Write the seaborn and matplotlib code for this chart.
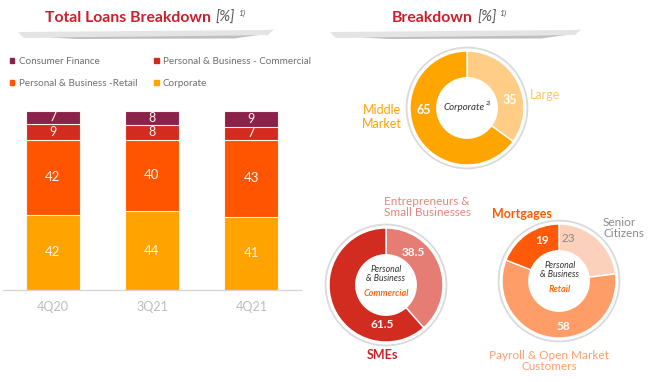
import matplotlib.pyplot as plt
import matplotlib.patches as mpatches
import numpy as np
import seaborn as sns

# ---- data -----------------------------------------------------------------
quarters = ["4Q20", "3Q21", "4Q21"]
segment_names = [
    "Consumer Finance",
    "Personal & Business - Commercial",
    "Personal & Business -Retail",
    "Corporate",
]
consumer_finance = [7, 8, 9]
pb_commercial = [9, 8, 7]
pb_retail = [42, 40, 43]
corporate = [42, 44, 41]

corp_labels = ["Large", "Middle\nMarket"]
corp_values = [35, 65]
comm_labels = ["Entrepreneurs &\nSmall Businesses", "SMEs"]
comm_values = [38.5, 61.5]
retail_labels = ["Senior\nCitizens", "Payroll & Open Market\nCustomers", "Mortgages"]
retail_values = [23, 58, 19]

# ---- style ----------------------------------------------------------------
sns.set_theme(style="white")
plt.rcParams["font.family"] = ["Lato", "DejaVu Sans"]

RED = "#CC1F2A"
seg_colors = ["#8B2249", "#D32B1F", "#FF5500", "#FFA300"]
corp_colors = ["#FFCD85", "#FFA500"]
comm_colors = ["#E57D75", "#D22B20"]
retail_colors = ["#FCD1BB", "#FF9D68", "#FF5A0A"]

W, H = 651, 382
fig = plt.figure(figsize=(W / 100, H / 100), dpi=100)
fig.patch.set_facecolor("white")


def px_axes(x0, y0, x1, y1, **kw):
    """Axes placed by pixel box (top-left origin)."""
    return fig.add_axes([x0 / W, 1 - y1 / H, (x1 - x0) / W, (y1 - y0) / H], **kw)


# ---- stacked bars -----------------------------------------------------------
ax = px_axes(3, 111, 301, 290)
bottom_up = [corporate, pb_retail, pb_commercial, consumer_finance]
bottom_up_colors = seg_colors[::-1]
cum = np.cumsum(np.array(bottom_up), axis=0)
for k in reversed(range(len(bottom_up))):
    sns.barplot(
        x=quarters, y=cum[k], color=bottom_up_colors[k], width=0.544,
        saturation=1, edgecolor="#FFF4EC", linewidth=0.8, ax=ax,
    )
for k, vals in enumerate(bottom_up):
    for i, v in enumerate(vals):
        ax.text(i, cum[k][i] - v / 2, str(v), ha="center", va="center",
                color="#FFF6EE", fontsize=9.5 if v > 20 else 9)

ax.set_xlim(-0.5, 2.5)
ax.set_ylim(0, 100)
sns.despine(ax=ax, left=True)
ax.spines["bottom"].set_color("#D5D5D5")
ax.spines["bottom"].set_linewidth(0.9)
ax.set_yticks([])
ax.set_xticks([-0.5, 0.5, 1.5, 2.5], minor=True)
ax.tick_params(axis="x", which="minor", length=5, direction="inout", color="#D5D5D5", width=0.9)
ax.tick_params(axis="x", which="major", length=0, pad=8, labelsize=9, labelcolor="#BDBDBD")
ax.set_xlabel("")
ax.set_ylabel("")

handles = [mpatches.Patch(color=c, label=n) for n, c in zip(segment_names, seg_colors)]
handles = [handles[0], handles[2], handles[1], handles[3]]
leg = ax.legend(
    handles=handles, ncol=2, frameon=False, loc="upper left",
    bbox_to_anchor=(3 / 298, 1 + 58 / 179), fontsize=7.1,
    handlelength=0.45, handleheight=0.45, handletextpad=0.45,
    columnspacing=1.7, labelspacing=1.3, borderaxespad=0,
)
for t in leg.get_texts():
    t.set_color("#6E6E6E")


# ---- donuts -----------------------------------------------------------------
def donut(cx, cy, values, colors, r_px=57):
    size = 75
    dax = px_axes(cx - size, cy - size, cx + size, cy + size)
    lim = size / r_px
    dax.pie(values, colors=colors, startangle=90, counterclock=False, radius=1,
            wedgeprops=dict(width=0.47, edgecolor="white", linewidth=1.0))
    dax.add_patch(mpatches.Circle((0, 0), 1.06, fill=False, edgecolor="#DADADA", linewidth=1.3))
    dax.set_xlim(-lim, lim)
    dax.set_ylim(-lim, lim)
    dax.set_aspect("equal")
    dax.axis("off")
    return dax


donut(467, 108, corp_values, corp_colors)
donut(386, 285, comm_values, comm_colors)
donut(559, 281, retail_values, retail_colors)

# ---- overlay for titles and annotations (pixel coordinates) -----------------
ov = px_axes(0, 0, W, H, zorder=10)
ov.set_xlim(0, W)
ov.set_ylim(H, 0)
ov.axis("off")


def swoosh(x0, x1, y):
    band = mpatches.Polygon(
        [(x0, y + 2), (x1 - 8, y), (x1, y - 0.5), (x1 - 6, y + 5), (x0 + 6, y + 8)],
        closed=True, facecolor="#E4E4E4", edgecolor="none")
    shade = mpatches.Polygon(
        [(x0 + 30, y + 7.5), (x1 - 40, y + 5.5), (x1 - 15, y + 5), (x1 - 40, y + 8.5), (x0 + 60, y + 9)],
        closed=True, facecolor="#8C8C8C", edgecolor="none", alpha=0.55)
    ov.add_patch(band)
    ov.add_patch(shade)


swoosh(18, 274, 30)
swoosh(330, 581, 30)

ov.text(211, 18, "Total Loans Breakdown", ha="right", va="center", color=RED,
        fontsize=11.3, fontweight="bold")
ov.text(216, 18, "[%]", ha="left", va="center", color="#555555", fontsize=10.5, style="italic")
ov.text(238, 13, "1)", ha="left", va="center", color="#555555", fontsize=6, style="italic")

ov.text(473, 18, "Breakdown", ha="right", va="center", color=RED,
        fontsize=11.3, fontweight="bold")
ov.text(477, 18, "[%]", ha="left", va="center", color="#555555", fontsize=10.5, style="italic")
ov.text(499, 13, "1)", ha="left", va="center", color="#555555", fontsize=6, style="italic")

# corporate donut
ov.text(382, 117, corp_labels[1], ha="center", va="center", color="#FFA000",
        fontsize=9, linespacing=1.15)
ov.text(530, 95, corp_labels[0], ha="left", va="center", color="#FFC36A", fontsize=9)
ov.text(424, 110, str(corp_values[1]), ha="center", va="center", color="white",
        fontsize=9, fontweight="bold")
ov.text(510, 100, str(corp_values[0]), ha="center", va="center", color="white",
        fontsize=9, fontweight="bold")
ov.text(464, 108, "Corporate", ha="center", va="center", color="#333333",
        fontsize=7, style="italic")
ov.text(486, 103, "2)", ha="left", va="center", color="#333333", fontsize=4.5, style="italic")

# commercial donut
ov.text(427, 207, comm_labels[0], ha="center", va="center", color="#E8857C",
        fontsize=8.5, linespacing=1.1)
ov.text(382, 355, comm_labels[1], ha="center", va="center", color="#C8232A",
        fontsize=9, fontweight="bold")
ov.text(413, 252, "38.5", ha="center", va="center", color="white", fontsize=8.5, fontweight="bold")
ov.text(382, 325, "61.5", ha="center", va="center", color="white", fontsize=8.5, fontweight="bold")
ov.text(386, 274, "Personal\n& Business", ha="center", va="center", color="#333333",
        fontsize=6.3, style="italic", linespacing=1.1)
ov.text(386, 293, "Commercial", ha="center", va="center", color="#FF6A13",
        fontsize=6.5, style="italic", fontweight="bold")

# retail donut
ov.text(522, 214, retail_labels[2], ha="center", va="center", color="#FF5A00",
        fontsize=9, fontweight="bold")
ov.text(603, 228, retail_labels[0], ha="left", va="center", color="#8A8A8A",
        fontsize=8.5, linespacing=1.1)
ov.text(549, 361, retail_labels[1], ha="center", va="center", color="#FF9E6A",
        fontsize=8.5, linespacing=1.1)
ov.text(568, 238, str(retail_values[0]), ha="center", va="center", color="#8A8A8A", fontsize=8.5)
ov.text(542, 241, str(retail_values[2]), ha="center", va="center", color="white",
        fontsize=8.5, fontweight="bold")
ov.text(563, 326, str(retail_values[1]), ha="center", va="center", color="white",
        fontsize=8.5, fontweight="bold")
ov.text(560, 270, "Personal\n& Business", ha="center", va="center", color="#333333",
        fontsize=6.3, style="italic", linespacing=1.1)
ov.text(560, 289, "Retail", ha="center", va="center", color="#FF6A13",
        fontsize=6.5, style="italic", fontweight="bold")

fig.savefig("out.png", dpi=100, facecolor="white")
